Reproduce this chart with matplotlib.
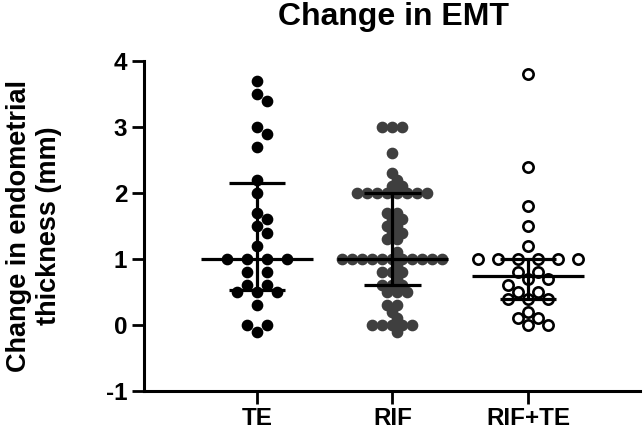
import numpy as np
import matplotlib
matplotlib.use("Agg")
import matplotlib.pyplot as plt

plt.rcParams['font.family'] = ['Liberation Sans', 'DejaVu Sans']
plt.rcParams['font.weight'] = 'bold'
plt.rcParams['axes.unicode_minus'] = False

# data (mm)
groups = ['TE', 'RIF', 'RIF+TE']
te_vals = [3.7, 3.5, 3.4, 3.0, 2.9, 2.7, 2.2, 2.0, 1.7, 1.6, 1.5, 1.4, 1.2,
           1.0, 1.0, 1.0, 1.0, 0.8, 0.8, 0.6, 0.6, 0.5, 0.5, 0.5, 0.3,
           0.0, 0.0, -0.1]
rif_vals = [3.0, 3.0, 3.0, 2.6, 2.3, 2.2, 2.1, 2.1,
            2.0, 2.0, 2.0, 2.0, 2.0, 2.0, 2.0, 2.0,
            1.7, 1.7, 1.6, 1.6, 1.5, 1.5, 1.4, 1.4, 1.3, 1.3, 1.1,
            1.0, 1.0, 1.0, 1.0, 1.0, 1.0, 1.0, 1.0, 1.0, 1.0, 1.0,
            0.9, 0.8, 0.8, 0.8, 0.7, 0.6, 0.6, 0.6, 0.5, 0.5, 0.5,
            0.3, 0.3, 0.2, 0.1, 0.0, 0.0, 0.0, 0.0, 0.0, -0.1]
rifte_vals = [3.8, 2.4, 1.8, 1.5, 1.2, 1.0, 1.0, 1.0, 1.0, 1.0, 1.0,
              0.8, 0.8, 0.7, 0.7, 0.6, 0.5, 0.5, 0.4, 0.4, 0.4,
              0.2, 0.1, 0.1, 0.0, 0.0]
all_vals = [te_vals, rif_vals, rifte_vals]

yticks = [-1, 0, 1, 2, 3, 4]

W, H = 644, 434
fig = plt.figure(figsize=(W / 100, H / 100), dpi=100)
ax = fig.add_axes([144 / W, 43 / H, 496 / W, 330 / H])
ax.set_xlim(-0.834, 2.827)
ax.set_ylim(-1, 4)

# pixel scale of the axes, used to lay out the swarm
px_x = ax.transData.transform((1, 0))[0] - ax.transData.transform((0, 0))[0]
px_y = ax.transData.transform((0, 1))[1] - ax.transData.transform((0, 0))[1]
diam = 10.0


def swarm(vals, step):
    # simple beeswarm: rows of equal values spread symmetrically,
    # falling back to a greedy search when a row hits placed points
    vals = np.asarray(vals, dtype=float)
    ypx = vals * px_y
    xs = np.zeros(len(vals))
    placed = []
    uniq, counts = np.unique(vals, return_counts=True)
    order = sorted(range(len(uniq)), key=lambda i: (-counts[i], -uniq[i]))

    def hits(x, y):
        for px, py in placed:
            dy = abs(y - py)
            if dy < 1e-6:
                if abs(x - px) < step * 0.99:
                    return True
            elif np.hypot(x - px, dy) < diam * 0.8:
                return True
        return False

    for i in order:
        idx = np.where(vals == uniq[i])[0]
        n = len(idx)
        y = uniq[i] * px_y
        pattern = (np.arange(n) - (n - 1) / 2) * step
        if not any(hits(x, y) for x in pattern):
            for j, x in zip(idx, pattern):
                xs[j] = x
                placed.append((x, y))
            continue
        cands = [0.0]
        for k in range(1, 40):
            cands += [k * step / 2, -k * step / 2]
        for j in idx:
            for x in cands:
                if not hits(x, ypx[j]):
                    xs[j] = x
                    placed.append((x, ypx[j]))
                    break
    return xs / px_x


ms = 7.4
for g, vals in enumerate(all_vals):
    uniq, counts = np.unique(vals, return_counts=True)
    step = 2 * diam if counts.max() * 2 * diam <= 135 else diam
    offs = swarm(vals, step)
    xs = g + offs
    if g == 0:
        ax.plot(xs, vals, 'o', ms=ms, color='black', mec='black', zorder=2)
    elif g == 1:
        ax.plot(xs, vals, 'o', ms=ms, color='#3f3f3f', mec='#3f3f3f', zorder=2)
    else:
        ax.plot(xs, vals, 'o', ms=ms, mfc='white', mec='black', mew=1.9, zorder=2)

    # median with interquartile range
    q1, med, q3 = np.percentile(vals, [25, 50, 75], method='weibull')
    ax.hlines(med, g - 0.413, g + 0.413, color='black', lw=2.3, zorder=3)
    ax.hlines([q1, q3], g - 0.207, g + 0.207, color='black', lw=2.3, zorder=3)
    ax.vlines(g, q1, q3, color='black', lw=2.3, zorder=3)

ax.set_xticks(range(len(groups)))
ax.set_xticklabels(groups, fontsize=17.5, fontweight='bold')
ax.set_yticks(yticks)
ax.set_yticklabels([str(t) for t in yticks], fontsize=17.5, fontweight='bold')
ax.tick_params(axis='both', width=2, length=9, color='black', pad=3)
ax.tick_params(axis='x', pad=2.5)

for s in ['top', 'right']:
    ax.spines[s].set_visible(False)
for s in ['left', 'bottom']:
    ax.spines[s].set_linewidth(2.2)
    ax.spines[s].set_color('black')

fig.text(34 / W, 1 - 226 / H, 'Change in endometrial\nthickness (mm)',
         rotation=90, ha='center', va='center', multialignment='center',
         fontsize=19.5, fontweight='bold', linespacing=1.2)

fig.text(393 / W, 1 - 25 / H, 'Change in EMT', ha='center', va='baseline',
         fontsize=23, fontweight='bold')

fig.savefig('out.png', dpi=100)
